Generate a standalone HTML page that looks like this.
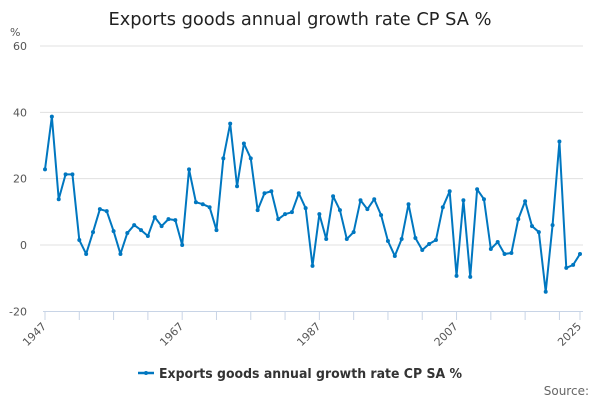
<!DOCTYPE html>
<html><head><meta charset="utf-8"><style>
body{margin:0;background:#fff;font-family:"Liberation Sans","DejaVu Sans",sans-serif;}
svg text{font-family:"DejaVu Sans","Liberation Sans",sans-serif;}
</style></head><body>
<svg id="chart" width="600" height="400" xmlns="http://www.w3.org/2000/svg">
<rect width="600" height="400" fill="#fff"/>
<text x="300" y="25" text-anchor="middle" font-size="17.8" fill="#222">Exports goods annual growth rate CP SA %</text>
<text x="10" y="36" font-size="11" fill="#555">%</text>
<g id="grid"></g><g id="xaxis"></g><g id="series"></g>
<g>
<line x1="138" y1="373" x2="154" y2="373" stroke="#0077c0" stroke-width="2.5"/>
<circle cx="146" cy="373" r="2" fill="#0077c0"/>
<text x="159" y="378" font-size="13" font-weight="bold" fill="#333" textLength="303" lengthAdjust="spacingAndGlyphs">Exports goods annual growth rate CP SA %</text>
</g>
<text x="589" y="395" text-anchor="end" font-size="12" fill="#666">Source:</text>
</svg>
<script>
const years=[];for(let y=1947;y<=2025;y++)years.push(y);
const values=[22.8,38.7,13.8,21.3,21.3,1.5,-2.7,3.9,10.8,10.2,4.2,-2.7,3.6,6,4.5,2.7,8.4,5.7,7.8,7.5,0,22.8,12.9,12.3,11.4,4.5,26.1,36.6,17.7,30.6,26.1,10.5,15.6,16.2,7.8,9.3,9.9,15.6,11.1,-6.3,9.3,1.8,14.7,10.5,1.8,3.9,13.5,10.8,13.8,9,1.2,-3.3,1.8,12.3,2.1,-1.5,0.3,1.5,11.4,16.2,-9.3,13.5,-9.6,16.8,13.8,-1.2,0.9,-2.7,-2.4,7.8,13.2,5.7,3.9,-14.1,6,31.2,-6.9,-6,-2.7];
const yTicks=[60,40,20,0,-20];
const xLabels=[1947,1967,1987,2007,2025];
const NS="http://www.w3.org/2000/svg";
const xS=y=>45+(y-1947)*(580-45)/78;
const yS=v=>245-v*(245-46)/60;
function mk(t,a,p){const e=document.createElementNS(NS,t);for(const k in a)e.setAttribute(k,a[k]);p.appendChild(e);return e;}
const grid=document.getElementById('grid'),xa=document.getElementById('xaxis'),se=document.getElementById('series');
yTicks.forEach(v=>{
 if(v!==-20){const l=mk('line',{x1:40,x2:583,y1:yS(v),y2:yS(v),stroke:'#e0e0e0','stroke-width':1},grid);
 
 }
 const t=mk('text',{x:27,y:yS(v)+4,'text-anchor':'end','font-size':11,fill:'#555'},grid);t.textContent=v;
 
 
});
const ax=mk('line',{x1:43,x2:583,y1:311.5,y2:311.5,stroke:'#c8d4e6','stroke-width':1},xa);


for(let y=1947;y<=2025;y+=5){mk('line',{x1:xS(y),x2:xS(y),y1:311,y2:320,stroke:'#c8d4e6'},xa);}
mk('line',{x1:xS(2025),x2:xS(2025),y1:311,y2:320,stroke:'#c8d4e6'},xa);
xLabels.forEach(y=>{const x=xS(y);const t=mk('text',{x:x+2,y:327,'text-anchor':'end','font-size':11,fill:'#555',transform:`rotate(-45 ${x+2} 327)`},xa);t.textContent=y;
 
 });
const pts=years.map((y,i)=>xS(y)+','+yS(values[i])).join(' ');
const pl=mk('polyline',{points:pts,fill:'none',stroke:'#0077c0','stroke-width':2,'stroke-linejoin':'round'},se);


years.forEach((y,i)=>{const c=mk('circle',{cx:xS(y),cy:yS(values[i]),r:2,fill:'#0077c0'},se);
 
 });
</script>
</body></html>
